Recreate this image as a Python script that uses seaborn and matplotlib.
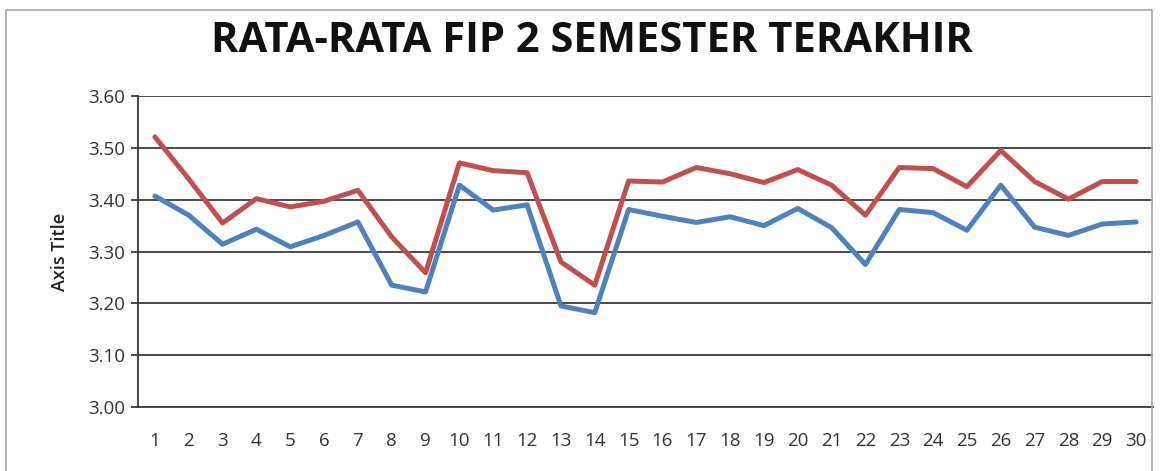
"""
Rata-rata FIP 2 semester terakhir - line chart recreation.
"""
import matplotlib
matplotlib.use("Agg")
import matplotlib.pyplot as plt
from matplotlib.patches import Rectangle
import seaborn as sns
import pandas as pd

# Data
mahasiswa = list(range(1, 31))
semester_a = [3.521, 3.440, 3.355, 3.402, 3.386, 3.397, 3.418, 3.328, 3.259, 3.471,
              3.456, 3.452, 3.280, 3.235, 3.436, 3.434, 3.462, 3.450, 3.433, 3.458,
              3.428, 3.370, 3.462, 3.460, 3.425, 3.495, 3.435, 3.401, 3.435, 3.435]
semester_b = [3.407, 3.370, 3.314, 3.343, 3.309, 3.331, 3.357, 3.235, 3.222, 3.428,
              3.380, 3.390, 3.195, 3.182, 3.381, 3.368, 3.356, 3.367, 3.350, 3.383,
              3.346, 3.275, 3.381, 3.375, 3.341, 3.428, 3.347, 3.331, 3.353, 3.357]
y_ticks = [3.00, 3.10, 3.20, 3.30, 3.40, 3.50, 3.60]

df = pd.DataFrame({
    "x": mahasiswa * 2,
    "ipk": semester_a + semester_b,
    "seri": ["A"] * len(mahasiswa) + ["B"] * len(mahasiswa),
})

sns.set_theme(style="white")
plt.rcParams["font.family"] = ["Open Sans", "DejaVu Sans"]

fig = plt.figure(figsize=(11.66, 4.71), dpi=100)
ax = fig.add_axes([138 / 1166, 1 - 407 / 471, (1153 - 138) / 1166, (407 - 96) / 471])

# outer chart border
fig.patches.append(Rectangle((6 / 1166, -0.05), (1152 - 6) / 1166, 1 - 10 / 471 + 0.05,
                             transform=fig.transFigure, fill=False,
                             edgecolor="#a6a6a6", linewidth=1.2))

for v in y_ticks:
    ax.axhline(v, color="#3a3a3a", linewidth=1.3, zorder=1)

sns.lineplot(data=df, x="x", y="ipk", hue="seri",
             palette={"A": "#C0504D", "B": "#4F81BD"},
             linewidth=3.6, legend=False, ax=ax, zorder=3)

ax.set_xlim(0.5, 30.5)
ax.set_ylim(3.0, 3.6)
ax.set_xticks(mahasiswa)
ax.set_xticklabels([str(i) for i in mahasiswa])
ax.set_yticks(y_ticks)
ax.set_yticklabels([f"{v:.2f}" for v in y_ticks])

for s in ["top", "right"]:
    ax.spines[s].set_visible(False)
ax.spines["left"].set_color("#3a3a3a")
ax.spines["left"].set_linewidth(1.3)
ax.spines["bottom"].set_color("#3a3a3a")
ax.spines["bottom"].set_linewidth(1.3)

ax.tick_params(axis="y", which="major", left=True, length=5, width=1.3,
               color="#3a3a3a", labelsize=13.5, labelcolor="#333333", pad=4)
ax.tick_params(axis="x", which="major", bottom=False, labelsize=13.5,
               labelcolor="#333333", pad=12)

ax.set_xlabel("")
ax.set_ylabel("Axis Title", fontsize=13, fontweight="semibold", color="#222222",
              labelpad=14)

fig.text(592 / 1166, 1 - 42 / 471, "RATA-RATA FIP 2 SEMESTER TERAKHIR",
         ha="center", va="center", fontsize=30, fontweight="bold", color="#111111")

fig.savefig("out.png", dpi=100)
